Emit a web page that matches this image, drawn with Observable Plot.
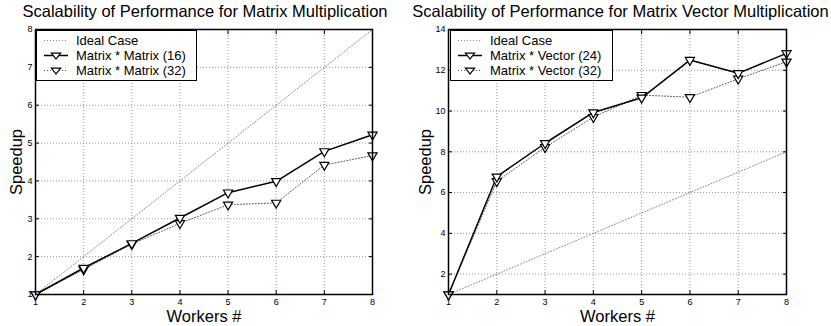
<!DOCTYPE html>
<html>
<head>
<meta charset="utf-8">
<script src="https://cdn.jsdelivr.net/npm/d3@7"></script>
<script src="https://cdn.jsdelivr.net/npm/@observablehq/plot@0.6"></script>
<style>
  html, body { margin: 0; padding: 0; background: #fff; }
  #root { position: relative; width: 831px; height: 326px; font-family: "Liberation Sans", Arial, Helvetica, sans-serif; }
  .panel { position: absolute; top: 0; }
  .title { height: 20px; line-height: 23px; font-size: 16.5px; text-align: center; white-space: nowrap; color: #000; overflow: visible; }
  .legend { position: absolute; background: #fff; border: 1.5px solid #000; font-size: 13px; padding: 2px 0 3px 0; box-sizing: border-box; }
  .legend .row { height: 15px; line-height: 15px; display: flex; align-items: center; white-space: nowrap; }
  .legend svg { margin: 0 8px 0 7px; }
  svg [aria-label="x-axis label"], svg [aria-label="y-axis label"] { font-size: 16.5px; }
</style>
</head>
<body>
<div id="root"></div>
<script>
// ---- data ----
const workers = [1, 2, 3, 4, 5, 6, 7, 8];
const idealSpeedup = [1, 2, 3, 4, 5, 6, 7, 8];
const matrixMatrix16 = [1, 1.70, 2.35, 3.02, 3.69, 3.99, 4.78, 5.22];
const matrixMatrix32 = [1, 1.66, 2.33, 2.88, 3.37, 3.42, 4.42, 4.67];
const matrixVector24 = [1, 6.78, 8.42, 9.93, 10.65, 12.5, 11.85, 12.83];
const matrixVector32 = [1, 6.55, 8.22, 9.70, 10.78, 10.68, 11.58, 12.42];
const leftTitle = "Scalability of Performance for Matrix Multiplication";
const rightTitle = "Scalability of Performance for Matrix Vector Multiplication";
const leftLegend = ["Ideal Case", "Matrix * Matrix (16)", "Matrix * Matrix (32)"];
const rightLegend = ["Ideal Case", "Matrix * Vector (24)", "Matrix * Vector (32)"];
const leftYTicks = [1, 2, 3, 4, 5, 6, 7, 8];
const rightYTicks = [2, 4, 6, 8, 10, 12, 14];
const xLabel = "Workers #";
const yLabel = "Speedup";

const toRows = (vals) => workers.map((w, i) => ({w, v: vals[i]}));

function makeChart({width, marginLeft, marginRight, yDomain, yTicks, ideal, solid, dotted, yLabelOffset}) {
  const font = '"Liberation Sans", Arial, Helvetica, sans-serif';
  return Plot.plot({
    width, height: 306,
    marginLeft, marginRight, marginTop: 9, marginBottom: 32,
    x: {domain: [1, 8]},
    y: {domain: yDomain},
    style: {fontFamily: font, fontSize: "9px", color: "#000", background: "#fff", overflow: "visible"},
    marks: [
      Plot.gridX(workers, {stroke: "#777", strokeOpacity: 1, strokeDasharray: "1,2", strokeWidth: 0.8}),
      Plot.gridY(yTicks, {stroke: "#777", strokeOpacity: 1, strokeDasharray: "1,2", strokeWidth: 0.8}),
      Plot.line(toRows(ideal), {x: "w", y: "v", stroke: "#888", strokeWidth: 1, strokeDasharray: "1,2"}),
      Plot.line(toRows(dotted), {x: "w", y: "v", stroke: "#555", strokeWidth: 1, strokeDasharray: "1,2"}),
      Plot.line(toRows(solid), {x: "w", y: "v", stroke: "#000", strokeWidth: 1.5}),
      Plot.dot(toRows(dotted), {x: "w", y: "v", symbol: "triangle", rotate: 180, r: 3.4, fill: "#fff", stroke: "#000", strokeWidth: 1.2}),
      Plot.dot(toRows(solid), {x: "w", y: "v", symbol: "triangle", rotate: 180, r: 3.4, fill: "#fff", stroke: "#000", strokeWidth: 1.2}),
      Plot.frame({stroke: "#000", strokeWidth: 1.5}),
      Plot.axisX(workers, {anchor: "bottom", tickSize: -4, tickPadding: 8, label: xLabel, labelArrow: "none", labelAnchor: "center", labelOffset: 27}),
      Plot.axisX(workers, {anchor: "top", tickSize: -4, tickFormat: () => "", label: null}),
      Plot.axisY(yTicks, {anchor: "left", tickSize: -4, tickPadding: 7, label: yLabel, labelArrow: "none", labelAnchor: "center", labelOffset: yLabelOffset}),
      Plot.axisY(yTicks, {anchor: "right", tickSize: -4, tickFormat: () => "", label: null})
    ]
  });
}

function legendSwatch(kind) {
  const ns = "http://www.w3.org/2000/svg";
  const s = document.createElementNS(ns, "svg");
  s.setAttribute("width", 24); s.setAttribute("height", 10);
  s.style.overflow = "visible";
  const l = document.createElementNS(ns, "line");
  l.setAttribute("x1", 0); l.setAttribute("x2", 24); l.setAttribute("y1", 4.5); l.setAttribute("y2", 4.5);
  if (kind === "ideal") { l.setAttribute("stroke", "#888"); l.setAttribute("stroke-dasharray", "1,2"); l.setAttribute("stroke-width", 1); }
  else if (kind === "solid") { l.setAttribute("stroke", "#000"); l.setAttribute("stroke-width", 1.5); }
  else { l.setAttribute("stroke", "#555"); l.setAttribute("stroke-dasharray", "1,2"); l.setAttribute("stroke-width", 1); }
  s.appendChild(l);
  if (kind !== "ideal") {
    const p = document.createElementNS(ns, "path");
    p.setAttribute("d", "M7.4,2.2 L16.6,2.2 L12,8.1 Z");
    p.setAttribute("fill", "#fff"); p.setAttribute("stroke", "#000"); p.setAttribute("stroke-width", 1.2);
    s.appendChild(p);
  }
  return s;
}

function makePanel({left, width, title, legend, legendLeft, legendWidth, chartOpts}) {
  const panel = document.createElement("div");
  panel.className = "panel";
  panel.style.left = left + "px";
  panel.style.width = width + "px";
  const t = document.createElement("div");
  t.className = "title"; t.textContent = title;
  panel.appendChild(t);
  panel.appendChild(makeChart({width, ...chartOpts}));
  const lg = document.createElement("div");
  lg.className = "legend";
  lg.style.left = legendLeft + "px"; lg.style.top = "30px"; lg.style.width = legendWidth + "px"; lg.style.height = "51px";
  ["ideal", "solid", "dotted"].forEach((k, i) => {
    const row = document.createElement("div");
    row.className = "row";
    row.appendChild(legendSwatch(k));
    const span = document.createElement("span"); span.textContent = legend[i];
    row.appendChild(span);
    lg.appendChild(row);
  });
  panel.appendChild(lg);
  return panel;
}

const root = document.getElementById("root");
root.appendChild(makePanel({
  left: 0, width: 410, title: leftTitle, legend: leftLegend, legendLeft: 36, legendWidth: 161,
  chartOpts: {marginLeft: 35, marginRight: 38, yDomain: [1, 8], yTicks: leftYTicks, ideal: idealSpeedup, solid: matrixMatrix16, dotted: matrixMatrix32, yLabelOffset: 25}
}));
root.appendChild(makePanel({
  left: 410, width: 421, title: rightTitle, legend: rightLegend, legendLeft: 40, legendWidth: 163,
  chartOpts: {marginLeft: 38, marginRight: 45, yDomain: [1, 14], yTicks: rightYTicks, ideal: idealSpeedup, solid: matrixVector24, dotted: matrixVector32, yLabelOffset: 29}
}));
</script>
</body>
</html>
